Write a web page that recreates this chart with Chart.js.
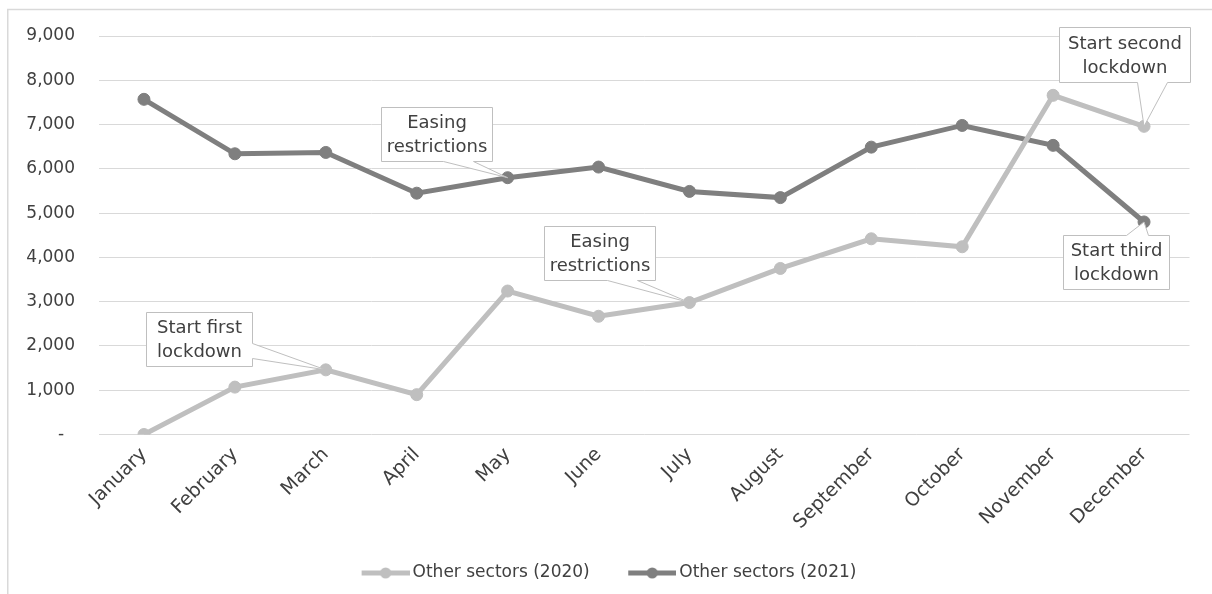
<!DOCTYPE html>
<html>
<head>
<meta charset="utf-8">
<script src="https://cdn.jsdelivr.net/npm/chart.js@4/dist/chart.umd.min.js"></script>
<style>
  html, body { margin: 0; padding: 0; background: #ffffff; }
  #wrap { position: relative; width: 1212px; height: 594px; }
  canvas { display: block; }
</style>
</head>
<body>
<div id="wrap"><canvas id="chart" width="1212" height="594"></canvas></div>
<script>
// Monthly counts, other sectors
const months = ['January', 'February', 'March', 'April', 'May', 'June',
                'July', 'August', 'September', 'October', 'November', 'December'];
const otherSectors2020 = [0, 1070, 1460, 900, 3240, 2670, 2980, 3750, 4420, 4240, 7660, 6960];
const otherSectors2021 = [7570, 6340, 6370, 5450, 5800, 6040, 5490, 5350, 6490, 6980, 6530, 4800];
const seriesNames = ['Other sectors (2020)', 'Other sectors (2021)'];

// Event notes attached to individual points (series index, month)
const notes = [
  { lines: ['Start first', 'lockdown'],    series: 0, month: 'March' },
  { lines: ['Easing', 'restrictions'],     series: 1, month: 'May' },
  { lines: ['Easing', 'restrictions'],     series: 0, month: 'July' },
  { lines: ['Start second', 'lockdown'],   series: 0, month: 'December' },
  { lines: ['Start third', 'lockdown'],    series: 1, month: 'December' }
];

// Callout box placement relative to the anchored point, and the pointer side
const noteLayout = [
  { dx: -180, dy: -58, w: 106, h: 54, side: 'right',  a: 31, b: 46 },
  { dx: -127, dy: -71, w: 111, h: 54, side: 'bottom', a: 62, b: 92 },
  { dx: -145, dy: -77, w: 111, h: 54, side: 'bottom', a: 63, b: 93 },
  { dx: -85,  dy: -99, w: 131, h: 55, side: 'bottom', a: 78, b: 108 },
  { dx: -81,  dy: 13,  w: 106, h: 54, side: 'top',    a: 63, b: 85 }
];

const FONT = 'DejaVu Sans';
const TEXT = '#404040';
const LIGHT = '#BFBFBF';
const DARK = '#7F7F7F';

Chart.defaults.font.family = FONT;
Chart.defaults.font.size = 17;
Chart.defaults.color = TEXT;

// Legend swatch: short thick line with a dot in the middle
const SWATCH_BOX = 71;
function makeSwatch(color) {
  const c = document.createElement('canvas');
  c.width = SWATCH_BOX + 11;
  c.height = 14;
  const g = c.getContext('2d');
  const x0 = c.width - 48, x1 = c.width;
  g.strokeStyle = color;
  g.lineWidth = 5;
  g.beginPath();
  g.moveTo(x0, 7);
  g.lineTo(x1, 7);
  g.stroke();
  g.fillStyle = color;
  g.beginPath();
  g.arc((x0 + x1) / 2, 7, 5.5, 0, Math.PI * 2);
  g.fill();
  return c;
}
const swatches = [makeSwatch(LIGHT), makeSwatch(DARK)];

const frame = {
  id: 'frame',
  beforeDraw(chart) {
    const ctx = chart.ctx;
    ctx.save();
    ctx.fillStyle = '#ffffff';
    ctx.fillRect(0, 0, chart.width, chart.height);
    ctx.strokeStyle = '#D9D9D9';
    ctx.lineWidth = 1.5;
    ctx.beginPath();
    ctx.moveTo(7.75, chart.height);
    ctx.lineTo(7.75, 9.5);
    ctx.lineTo(chart.width, 9.5);
    ctx.stroke();
    ctx.restore();
  }
};

const callouts = {
  id: 'callouts',
  afterDatasetsDraw(chart) {
    const ctx = chart.ctx;
    const xs = chart.scales.x, ys = chart.scales.y;
    ctx.save();
    notes.forEach((n, i) => {
      const L = noteLayout[i];
      const values = chart.data.datasets[n.series].data;
      const idx = chart.data.labels.indexOf(n.month);
      const px = xs.getPixelForValue(idx);
      const py = ys.getPixelForValue(values[idx]);
      const x0 = Math.round(px + L.dx) + 0.5;
      const y0 = Math.round(py + L.dy) + 0.5;
      const x1 = x0 + L.w, y1 = y0 + L.h;
      ctx.beginPath();
      ctx.moveTo(x0, y0);
      if (L.side === 'top') {
        ctx.lineTo(x0 + L.a, y0);
        ctx.lineTo(px, py);
        ctx.lineTo(x0 + L.b, y0);
      }
      ctx.lineTo(x1, y0);
      if (L.side === 'right') {
        ctx.lineTo(x1, y0 + L.a);
        ctx.lineTo(px, py);
        ctx.lineTo(x1, y0 + L.b);
      }
      ctx.lineTo(x1, y1);
      if (L.side === 'bottom') {
        ctx.lineTo(x0 + L.b, y1);
        ctx.lineTo(px, py);
        ctx.lineTo(x0 + L.a, y1);
      }
      ctx.lineTo(x0, y1);
      ctx.closePath();
      ctx.fillStyle = '#ffffff';
      ctx.fill();
      ctx.strokeStyle = LIGHT;
      ctx.lineWidth = 1;
      ctx.stroke();

      ctx.fillStyle = TEXT;
      ctx.font = '18px "' + FONT + '"';
      ctx.textAlign = 'center';
      ctx.textBaseline = 'middle';
      const cx = (x0 + x1) / 2, cy = (y0 + y1) / 2 + 1;
      const lh = 24;
      n.lines.forEach((t, k) => {
        ctx.fillText(t, cx, cy + (k - (n.lines.length - 1) / 2) * lh);
      });
    });
    ctx.restore();
  }
};

new Chart(document.getElementById('chart'), {
  type: 'line',
  data: {
    labels: months,
    datasets: [
      {
        label: seriesNames[0],
        data: otherSectors2020,
        borderColor: LIGHT,
        backgroundColor: LIGHT,
        pointBackgroundColor: LIGHT,
        pointBorderColor: LIGHT,
        borderWidth: 5,
        pointRadius: 6,
        pointBorderWidth: 1,
        tension: 0
      },
      {
        label: seriesNames[1],
        data: otherSectors2021,
        borderColor: DARK,
        backgroundColor: DARK,
        pointBackgroundColor: DARK,
        pointBorderColor: DARK,
        borderWidth: 5,
        pointRadius: 6,
        pointBorderWidth: 1,
        tension: 0
      }
    ]
  },
  options: {
    responsive: false,
    animation: false,
    devicePixelRatio: 1,
    layout: { padding: { top: 36, left: 0, right: 22.5, bottom: 2.5 } },
    plugins: {
      tooltip: { enabled: false },
      legend: {
        position: 'bottom',
        align: 'center',
        labels: {
          color: TEXT,
          font: { size: 17 },
          padding: 10,
          usePointStyle: true,
          pointStyleWidth: SWATCH_BOX,
          generateLabels(chart) {
            const items = Chart.defaults.plugins.legend.labels.generateLabels(chart);
            items.forEach((it, i) => { it.pointStyle = swatches[i]; });
            return items;
          }
        }
      }
    },
    scales: {
      x: {
        offset: true,
        grid: { display: false, drawTicks: false },
        border: { display: false },
        ticks: {
          autoSkip: false,
          minRotation: 45,
          maxRotation: 45,
          padding: 9,
          color: TEXT,
          font: { size: 19 }
        },
        afterFit(scale) { scale.height = 120; }
      },
      y: {
        min: 0,
        max: 9000,
        grid: { color: '#D9D9D9', lineWidth: 1, drawTicks: false },
        border: { display: false },
        ticks: {
          stepSize: 1000,
          padding: 23.5,
          color: TEXT,
          font: { size: 17 },
          callback(v) { return v === 0 ? '-  ' : v.toLocaleString('en-US'); }
        },
        afterFit(scale) { scale.width = 98.5; }
      }
    }
  },
  plugins: [frame, callouts]
});
</script>
</body>
</html>
